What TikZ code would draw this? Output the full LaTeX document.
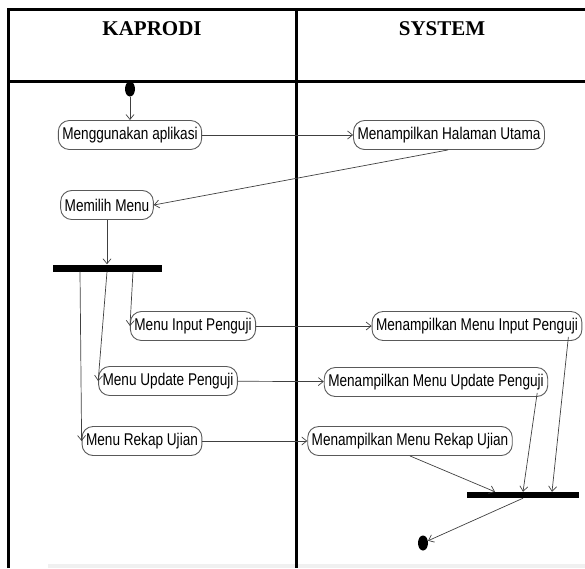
\documentclass[tikz,border=0pt]{standalone}
\usepackage{fontspec}
\setmainfont{Liberation Serif}
\newfontfamily\umlfont[FakeStretch=0.8]{Liberation Sans}
\usetikzlibrary{arrows.meta,shapes.geometric}

\tikzset{
  action/.style={draw=black!65,line width=.9pt,rounded corners=11pt,minimum height=29pt,
    inner xsep=4pt,inner ysep=2pt,font=\umlfont\fontsize{17}{18}\selectfont},
  flow/.style={draw=black!75,line width=.7pt,-{Straight Barb[length=5pt,width=8pt]}},
  bar/.style={fill=black,inner sep=0pt,minimum height=7pt},
  dot/.style={ellipse,fill=black,inner sep=0pt,minimum width=10pt,minimum height=15pt},
  lane/.style={font=\bfseries\fontsize{21}{22}\selectfont}
}

\begin{document}
\begin{tikzpicture}[x=1pt,y=-1pt]

	\useasboundingbox (0,0) rectangle (585,568);
	\fill[gray!12] (48,564) rectangle (585,568);

	% swimlanes
	\draw[line width=3pt] (8,568) -- (8,9) -- (585,9);
	\draw[line width=3pt] (8,81) -- (585,81);
	\draw[line width=3pt] (296,9) -- (296,568);

	\node (kaprodi) at (152,29) [lane] {KAPRODI};
	\node (system) at (442,29) [lane] {SYSTEM};

	\node (start) at (130,89) [dot] {};

	\node (menggunakan) at (130,135) [action] {Menggunakan aplikasi};
	\node (halaman) at (449,135) [action] {Menampilkan Halaman Utama};
	\node (memilih) at (107,205) [action] {Memilih Menu};

	\node (fork) at (107,268) [bar,minimum width=109pt] {};

	\node (input) at (193,326) [action] {Menu Input Penguji};
	\node (update) at (168,381) [action] {Menu Update Penguji};
	\node (rekap) at (142,441) [action] {Menu Rekap Ujian};

	\node (tampilinput) at (477,326) [action] {Menampilkan Menu Input Penguji};
	\node (tampilupdate) at (436,382) [action] {Menampilkan Menu Update Penguji};
	\node (tampilrekap) at (410,441) [action] {Menampilkan Menu Rekap Ujian};

	\node (join) at (523,495) [bar,minimum width=112pt,minimum height=6pt] {};
	\node (finish) at (423,543) [dot] {};

	\draw[flow] (start) -- (menggunakan.north);
	\draw[flow] (menggunakan) -- (halaman);
	\draw[flow] ([xshift=-1pt]halaman.south) -- (memilih.east);
	\draw[flow] (memilih.south) -- (fork.north);

	\draw[flow] ([xshift=26pt]fork.south) -- (input.west);
	\draw[flow] (fork.south) -- (update.west);
	\draw[flow] ([xshift=-27pt]fork.south) -- (rekap.west);

	\draw[flow] (input) -- (tampilinput);
	\draw[flow] (update) -- (tampilupdate);
	\draw[flow] (rekap) -- (tampilrekap);

	\draw[flow] ([xshift=-14pt,yshift=4pt]tampilinput.south east) -- ([xshift=29pt]join.north);
	\draw[flow] ([xshift=-11pt,yshift=4pt]tampilupdate.south east) -- (join.north);
	\draw[flow] (tampilrekap.south) -- ([xshift=-28pt]join.north);
	\draw[flow] (join.south) -- (finish);

\end{tikzpicture}
\end{document}
